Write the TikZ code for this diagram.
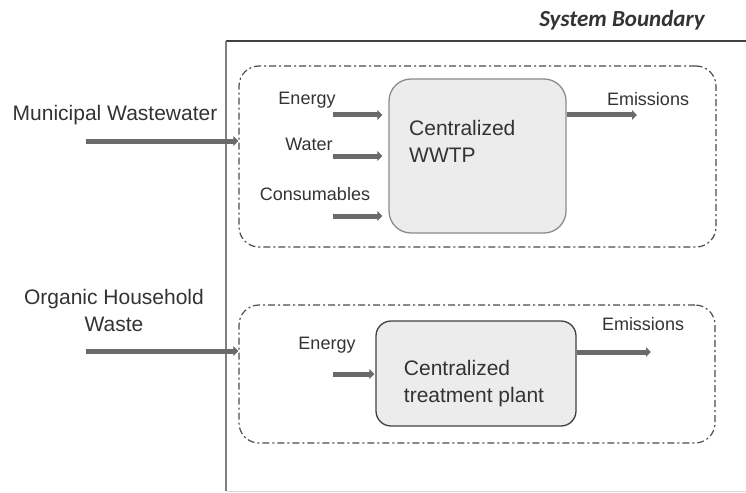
\documentclass[tikz,border=0pt]{standalone}
\usepackage{fontspec}
\setmainfont{Liberation Sans}
\newfontfamily\boundfont{Carlito}
\usetikzlibrary{calc}
\usetikzlibrary{arrows.meta}

\definecolor{flowgray}{HTML}{6A6A6A}
\definecolor{txtgray}{HTML}{333333}
\definecolor{boxfill}{HTML}{ECECEC}

\begin{document}
\begin{tikzpicture}[x=1pt,y=-1pt,
   flow/.style={draw=flowgray,line width=5pt,-{Triangle[length=5pt,width=9.5pt]}},
   subsys/.style={draw=black!70,line width=1.2pt,dash pattern=on 7pt off 3pt on 2pt off 3pt,
      rounded corners=20pt,inner sep=0pt},
   plant/.style={fill=boxfill,line width=1.3pt,inner sep=0pt},
   lbl/.style={text=txtgray,font=\fontsize{18}{22}\selectfont,inner sep=0pt},
   biglbl/.style={text=txtgray,font=\fontsize{21}{27}\selectfont,inner sep=0pt,align=center}]
   \useasboundingbox (0,0) rectangle (746,492);

   % system boundary
   \draw[black!75,line width=2pt] (226,41) -- (746,41);
   \draw[black!50,line width=2pt] (226,41) -- (226,491);
   \draw[black!15,line width=1pt] (226,491) -- (746,491);
   \node[text=black!80,font=\boundfont\itshape\bfseries\fontsize{23}{26}\selectfont] (sb) at (622,20) {System Boundary};

   % subsystems
   \node[subsys,minimum width=477pt,minimum height=181pt] (wwsys) at (477.5,156.5) {};
   \node[subsys,minimum width=476pt,minimum height=138pt] (owsys) at (477,374) {};
   \node[plant,draw=black!45,rounded corners=22pt,minimum width=177pt,minimum height=154pt] (wwtp) at (477.5,156) {};
   \node[plant,draw=black!75,rounded corners=15pt,minimum width=200pt,minimum height=105pt] (ctp) at (476,373.5) {};
   \node[biglbl,align=left,anchor=north west] (wwtptxt) at (409,120) {Centralized\\WWTP};
   \node[biglbl,align=left] (ctptxt) at (474,384) {Centralized\\treatment plant};

   % inputs and outputs
   \node[biglbl] (mww) at (115,115) {Municipal Wastewater};
   \node[biglbl] (ohw) at (114,310) {Organic Household\\Waste};
   \node[lbl] (en1) at (307,100) {Energy};
   \node[lbl] (wat) at (309,144) {Water};
   \node[lbl] (con) at (315,194) {Consumables};
   \node[lbl] (em1) at (648,99) {Emissions};
   \node[lbl] (en2) at (327,345) {Energy};
   \node[lbl] (em2) at (643,324) {Emissions};

   \coordinate (mwin) at (86,141);
   \coordinate (owin) at (86,351);
   \coordinate (en1in) at (333,115);
   \coordinate (watin) at (333,156);
   \coordinate (conin) at (333,216);
   \coordinate (en2in) at (333,374);
   \coordinate (em1out) at (637,115);
   \coordinate (em2out) at (651,352);

   \draw[flow] (mwin) -- (mwin -| wwsys.west);
   \draw[flow] (owin) -- (owin -| owsys.west);
   \draw[flow,shorten >=6pt] (en1in) -- (en1in -| wwtp.west);
   \draw[flow,shorten >=6pt] (watin) -- (watin -| wwtp.west);
   \draw[flow,shorten >=6pt] (conin) -- (conin -| wwtp.west);
   \draw[flow,shorten >=1pt] (en2in) -- (en2in -| ctp.west);
   \draw[flow] (em1out -| wwtp.east) -- (em1out);
   \draw[flow] (em2out -| ctp.east) -- (em2out);
\end{tikzpicture}
\end{document}
